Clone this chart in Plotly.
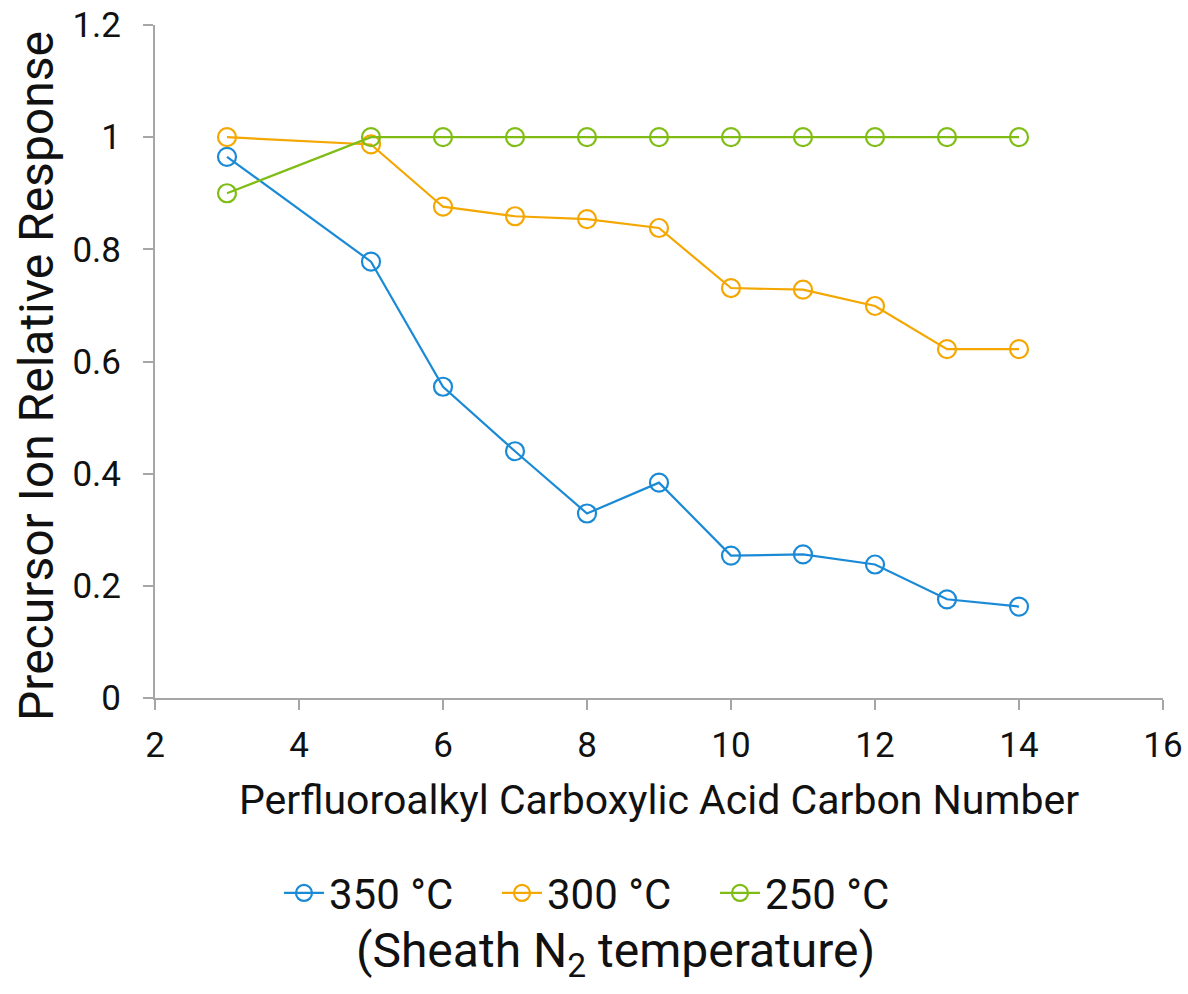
import plotly.graph_objects as go

# Carbon number of each perfluoroalkyl carboxylic acid
carbon_number = [3, 5, 6, 7, 8, 9, 10, 11, 12, 13, 14]

# Relative precursor ion response at each sheath gas temperature
resp_350 = [0.965, 0.778, 0.555, 0.440, 0.329, 0.384, 0.254, 0.256, 0.238, 0.176, 0.163]
resp_300 = [1.000, 0.987, 0.876, 0.859, 0.854, 0.838, 0.731, 0.728, 0.699, 0.622, 0.622]
resp_250 = [0.900, 1.000, 1.000, 1.000, 1.000, 1.000, 1.000, 1.000, 1.000, 1.000, 1.000]

series_names = ["350 °C", "300 °C", "250 °C"]
series_colors = ["#1a8ad6", "#f4a700", "#7fbd14"]

x_ticks = [2, 4, 6, 8, 10, 12, 14, 16]
y_ticks = [0, 0.2, 0.4, 0.6, 0.8, 1.0, 1.2]
y_tick_text = ["0", "0.2", "0.4", "0.6", "0.8", "1", "1.2"]

FONT = "Roboto"
INK = "#111111"
AXIS_GREY = "#a6a6a6"

fig = go.Figure()
for name, ys, col in zip(series_names, [resp_350, resp_300, resp_250], series_colors):
    fig.add_trace(go.Scatter(
        x=carbon_number, y=ys, name=name, mode="lines+markers",
        line=dict(color=col, width=2.2),
        marker=dict(symbol="circle-open", size=18, color=col, line=dict(color=col, width=2.2)),
    ))

fig.update_layout(
    width=1188, height=994,
    margin=dict(l=155, r=25, t=25, b=296, autoexpand=False),
    paper_bgcolor="white", plot_bgcolor="white",
    font=dict(family=FONT, size=35, color=INK),
    showlegend=True,
    legend=dict(
        orientation="h", x=0.123, xanchor="left", y=-0.29, yanchor="middle",
        font=dict(family=FONT, size=42, color=INK),
        itemwidth=40, entrywidth=163, traceorder="normal",
    ),
    xaxis=dict(
        range=[2, 16], tickvals=x_ticks, showgrid=False, zeroline=False,
        showline=True, linecolor=AXIS_GREY, linewidth=2,
        ticks="outside", ticklen=10, tickwidth=2, tickcolor=AXIS_GREY,
        tickfont=dict(family=FONT, size=35, color=INK), ticklabelstandoff=5,
        title=dict(text="Perfluoroalkyl Carboxylic Acid Carbon Number",
                   font=dict(family=FONT, size=41, color=INK), standoff=20),
    ),
    yaxis=dict(
        range=[0, 1.2], tickvals=y_ticks, ticktext=y_tick_text, showgrid=False, zeroline=False,
        showline=True, linecolor=AXIS_GREY, linewidth=2,
        ticks="outside", ticklen=10, tickwidth=2, tickcolor=AXIS_GREY,
        tickfont=dict(family=FONT, size=35, color=INK), ticklabelstandoff=15,
    ),
    annotations=[
        # y-axis title, placed by hand so it can sit off the plot centre
        dict(
            text="Precursor Ion Relative Response", xref="paper", yref="paper",
            x=0, y=0.4785, xshift=-118, xanchor="center", yanchor="middle",
            textangle=-90, showarrow=False,
            font=dict(family=FONT, size=48, color=INK),
        ),
        # caption under the legend
        dict(
            text="(Sheath N<sub>2</sub> temperature)", xref="paper", yref="paper",
            x=0.4573, y=-0.3796, xanchor="center", yanchor="middle", showarrow=False,
            font=dict(family=FONT, size=48, color=INK),
        ),
    ],
)

fig.write_html("out.html")
